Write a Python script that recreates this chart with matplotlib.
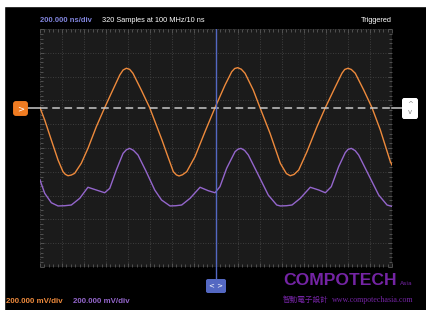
import numpy as np
import matplotlib
matplotlib.use("Agg")
import matplotlib.pyplot as plt
import matplotlib.transforms as mtransforms
from matplotlib.patches import FancyBboxPatch, Rectangle

# scope settings
time_per_div = 200      # ns
volt_per_div = 200      # mV
n_xdiv = 16
n_ydiv = 10
trigger_time = 1600     # ns
trigger_level = 340     # mV

# channel 1 (orange): time ns, mV from screen centre
ch1_t = [0, 43, 103, 164, 209, 230, 255, 285, 315, 375, 436, 512, 588, 648, 725, 755,
         785, 815, 845, 921, 997, 1057, 1109, 1150, 1212, 1240, 1264, 1295, 1334, 1409,
         1500, 1591, 1682, 1743, 1770, 1797, 1830, 1864, 1939, 2000, 2091, 2185, 2240,
         2275, 2310, 2352, 2427, 2518, 2594, 2685, 2745, 2770, 2800, 2830, 2866, 2943,
         3018, 3094, 3185, 3200]
ch1_v = [339, 235, 67, -101, -199, -221, -233, -227, -213, -129, -3, 179, 339, 460, 613, 655,
         670, 661, 628, 487, 339, 193, 67, -40, -199, -226, -235, -225, -199, -73,
         137, 339, 529, 641, 668, 675, 662, 628, 487, 339, 124, -129, -215,
         -233, -222, -185, -31, 179, 339, 515, 628, 660, 670, 660, 628, 487,
         339, 151, -115, -143]

# channel 2 (purple)
ch2_t = [0, 43, 103, 164, 225, 285, 361, 436, 512, 588, 634, 694, 755, 785, 815, 850,
         891, 966, 1043, 1105, 1182, 1235, 1288, 1364, 1455, 1530, 1591, 1636, 1697, 1773,
         1800, 1827, 1860, 1894, 1985, 2075, 2152, 2185, 2240, 2291, 2366, 2457, 2534,
         2594, 2648, 2715, 2775, 2800, 2830, 2865, 2897, 2988, 3079, 3155, 3200]
ch2_v = [-269, -381, -460, -487, -485, -479, -423, -330, -353, -376, -339, -185, -45, -15, -3, -20,
         -59, -199, -353, -437, -487, -485, -479, -423, -330, -359, -376, -325, -170, -31,
         -10, -3, -20, -59, -227, -395, -479, -487, -485, -479, -423, -330, -353,
         -376, -325, -157, -39, -12, -3, -22, -59, -227, -395, -479, -491]

header_left = "200.000 ns/div"
header_mid = "320 Samples at 100 MHz/10 ns"
header_right = "Triggered"
ch1_scale = "200.000 mV/div"
ch2_scale = "200.000 mV/div"

orange = "#ee8a3c"
purple = "#9466cc"
blue = "#5468c2"

W, H = 426, 310
fig = plt.figure(figsize=(W / 100, H / 100), dpi=100, facecolor="black")

# white strips on the top / left edge of the screenshot
fig.patches.append(Rectangle((0, 1 - 6 / H), 1, 6 / H, transform=fig.transFigure,
                             color="white", zorder=0))
fig.patches.append(Rectangle((0, 0), 4 / W, 1, transform=fig.transFigure,
                             color="white", zorder=0))

ax = fig.add_axes([40 / W, 1 - 267 / H, 352 / W, 238 / H])
ax.set_facecolor("#1b1b1b")
ax.set_xlim(0, n_xdiv * time_per_div)
ax.set_ylim(-n_ydiv / 2 * volt_per_div, n_ydiv / 2 * volt_per_div)
ax.set_xticks(np.arange(0, n_xdiv * time_per_div + 1, time_per_div))
ax.set_yticks(np.arange(-n_ydiv / 2 * volt_per_div, n_ydiv / 2 * volt_per_div + 1, volt_per_div))
ax.set_xticks(np.arange(0, n_xdiv * time_per_div + 1, time_per_div / 5), minor=True)
ax.set_yticks(np.arange(-n_ydiv / 2 * volt_per_div, n_ydiv / 2 * volt_per_div + 1, volt_per_div / 5), minor=True)
ax.tick_params(which="both", direction="in", top=True, right=True,
               labelbottom=False, labelleft=False, color="#5a5a5a", width=0.6)
ax.tick_params(which="major", length=3)
ax.tick_params(which="minor", length=2)
ax.grid(True, which="major", color="#4a4a4a", linestyle=(0, (1, 2)), linewidth=0.6)
for s in ax.spines.values():
    s.set_visible(False)

ax.plot(ch1_t, ch1_v, color=orange, lw=1.0, zorder=3)
ax.plot(ch2_t, ch2_v, color=purple, lw=1.0, zorder=3)

# trigger level (dashed) and trigger time (blue)
ax.axhline(trigger_level, color="#c8c8c8", lw=1.1, ls=(0, (5, 3)), zorder=4)
ax.axvline(trigger_time, color=blue, lw=1.0, zorder=4)

bt = mtransforms.blended_transform_factory(ax.transAxes, ax.transData)
px = 1 / 352  # one pixel in axes fraction along x
ax.plot([-12 * px, 0], [trigger_level] * 2, color="#c8c8c8", lw=1.1, transform=bt, clip_on=False)
ax.plot([1, 1 + 11 * px], [trigger_level] * 2, color="#c8c8c8", lw=1.1, transform=bt, clip_on=False)

# left marker (channel 1 / trigger)
lm = fig.add_axes([13 / W, 1 - 116 / H, 15 / W, 15 / H])
lm.axis("off")
lm.add_patch(FancyBboxPatch((0.05, 0.05), 0.9, 0.9, boxstyle="round,pad=0,rounding_size=0.15",
                            color="#f07c22", transform=lm.transAxes))
lm.text(0.5, 0.5, ">", color="white", ha="center", va="center", fontsize=6, transform=lm.transAxes)

# right marker (up/down)
rm = fig.add_axes([402 / W, 1 - 119 / H, 16 / W, 21 / H])
rm.axis("off")
rm.add_patch(FancyBboxPatch((0.03, 0.03), 0.94, 0.94, boxstyle="round,pad=0,rounding_size=0.12",
                            color="white", transform=rm.transAxes))
rm.text(0.5, 0.7, "^", color="#888888", ha="center", va="center", fontsize=5, transform=rm.transAxes)
rm.text(0.5, 0.32, "v", color="#888888", ha="center", va="center", fontsize=5, transform=rm.transAxes)

# blue line to bottom marker
fig.add_artist(plt.Line2D([216 / W, 216 / W], [1 - 267 / H, 1 - 279 / H], color=blue, lw=1.0))
bm = fig.add_axes([206 / W, 1 - 293 / H, 20 / W, 14 / H])
bm.axis("off")
bm.add_patch(FancyBboxPatch((0.03, 0.03), 0.94, 0.94, boxstyle="round,pad=0,rounding_size=0.12",
                            color=blue, transform=bm.transAxes))
bm.text(0.5, 0.5, "< >", color="white", ha="center", va="center", fontsize=5, transform=bm.transAxes)

# header / footer texts
fs = 5.5
fig.text(40 / W, 1 - 22 / H, header_left, color="#8084dc", fontsize=fs, fontweight="bold",
         family="Liberation Sans", va="baseline")
fig.text(102 / W, 1 - 22 / H, header_mid, color="white", fontsize=5.3, family="Liberation Sans", va="baseline")
fig.text(392 / W, 1 - 22 / H, header_right, color="white", fontsize=5.3, family="Liberation Sans",
         va="baseline", ha="right")
fig.text(6 / W, 1 - 303 / H, ch1_scale, color=orange, fontsize=5.7, fontweight="bold",
         family="Liberation Sans", va="baseline")
fig.text(73 / W, 1 - 303 / H, ch2_scale, color=purple, fontsize=5.7, fontweight="bold",
         family="Liberation Sans", va="baseline")

# watermark
wm = "#7424a4"
fig.text(283 / W, 1 - 285 / H, "COMPOTECH", color=wm, fontsize=12.6,
         fontweight="bold", family="Liberation Sans", va="baseline")
fig.text(400 / W, 1 - 285 / H, "Asia", color=wm, fontsize=4.3,
         family="DejaVu Sans", va="baseline")
fig.text(283 / W, 1 - 302 / H, "智動電子設計", color=wm, fontsize=5.5,
         family=["Noto Sans CJK TC", "DejaVu Sans"], va="baseline")
fig.text(332 / W, 1 - 302 / H, "www.compotechasia.com", color=wm, fontsize=5.8,
         family="Liberation Serif", va="baseline")

fig.savefig("out.png", dpi=100, facecolor="black")
